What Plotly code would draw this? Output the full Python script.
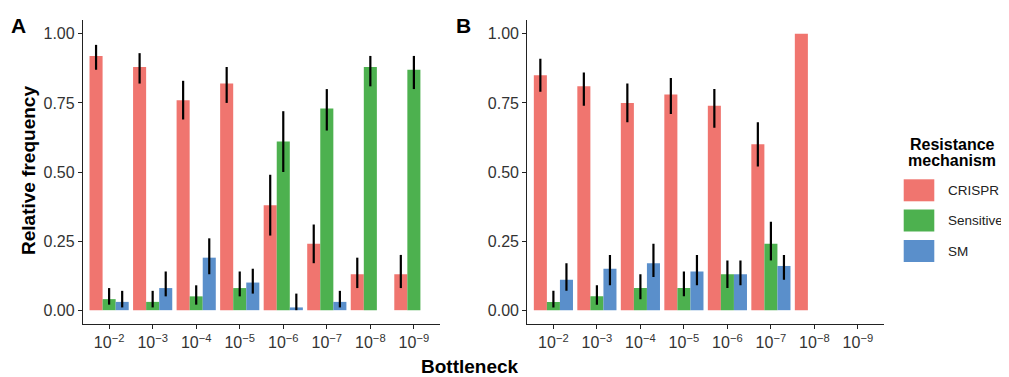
import plotly.graph_objects as go

# ---- data ----
bottleneck = ["10<sup>−2</sup>", "10<sup>−3</sup>", "10<sup>−4</sup>", "10<sup>−5</sup>",
              "10<sup>−6</sup>", "10<sup>−7</sup>", "10<sup>−8</sup>", "10<sup>−9</sup>"]
mechanisms = ["CRISPR", "Sensitive", "SM"]
colors = {"CRISPR": "#F0756F", "Sensitive": "#4DB14F", "SM": "#5A8FCB"}

# Panel A
a_crispr = [0.92, 0.88, 0.76, 0.82, 0.38, 0.24, 0.13, 0.13]
a_crispr_lo = [0.87, 0.82, 0.69, 0.75, 0.27, 0.17, 0.08, 0.08]
a_crispr_hi = [0.96, 0.93, 0.83, 0.88, 0.49, 0.31, 0.19, 0.20]
a_sens = [0.04, 0.03, 0.05, 0.08, 0.61, 0.73, 0.88, 0.87]
a_sens_lo = [0.02, 0.01, 0.02, 0.05, 0.50, 0.65, 0.81, 0.80]
a_sens_hi = [0.08, 0.07, 0.09, 0.14, 0.72, 0.80, 0.92, 0.92]
a_sm = [0.03, 0.08, 0.19, 0.10, 0.01, 0.03, 0.0, 0.0]
a_sm_lo = [0.01, 0.05, 0.13, 0.06, 0.00, 0.01, None, None]
a_sm_hi = [0.07, 0.14, 0.26, 0.15, 0.06, 0.07, None, None]

# Panel B
b_crispr = [0.85, 0.81, 0.75, 0.78, 0.74, 0.60, 1.00, None]
b_crispr_lo = [0.79, 0.74, 0.68, 0.71, 0.66, 0.52, None, None]
b_crispr_hi = [0.91, 0.86, 0.82, 0.84, 0.80, 0.68, None, None]
b_sens = [0.03, 0.05, 0.08, 0.08, 0.13, 0.24, 0.0, None]
b_sens_lo = [0.01, 0.02, 0.04, 0.05, 0.08, 0.18, None, None]
b_sens_hi = [0.07, 0.09, 0.13, 0.14, 0.18, 0.32, None, None]
b_sm = [0.11, 0.15, 0.17, 0.14, 0.13, 0.16, 0.0, None]
b_sm_lo = [0.07, 0.09, 0.12, 0.09, 0.09, 0.11, None, None]
b_sm_hi = [0.17, 0.20, 0.24, 0.20, 0.18, 0.20, None, None]

xpos = list(range(1, len(bottleneck) + 1))

# page offset (default body margin) compensation
W, H, OFF = 1001, 369, 8


def PX(px):
    return (px - OFF) / W


def PY(py):
    return 1 - (py - OFF) / H


def err(vals, lo, hi):
    up = [None if (v is None or h is None) else h - v for v, h in zip(vals, hi)]
    dn = [None if (v is None or l is None) else v - l for v, l in zip(vals, lo)]
    return dict(type="data", symmetric=False, array=up, arrayminus=dn,
                color="black", thickness=2.2, width=0)


fig = go.Figure()
panels = [
    ("x", "y", [(a_crispr, a_crispr_lo, a_crispr_hi), (a_sens, a_sens_lo, a_sens_hi), (a_sm, a_sm_lo, a_sm_hi)]),
    ("x2", "y2", [(b_crispr, b_crispr_lo, b_crispr_hi), (b_sens, b_sens_lo, b_sens_hi), (b_sm, b_sm_lo, b_sm_hi)]),
]
for xa, ya, series in panels:
    for name, (v, lo, hi) in zip(mechanisms, series):
        fig.add_trace(go.Bar(x=xpos, y=v, name=name, xaxis=xa, yaxis=ya,
                             marker=dict(color=colors[name], line=dict(width=0)),
                             error_y=err(v, lo, hi), showlegend=False,
                             offsetgroup=name))

FONT = "Liberation Sans, Arial"
tickfont = dict(family=FONT, size=16, color="#333333")
xcommon = dict(range=[0.4, 8.6], tickvals=xpos, ticktext=bottleneck, showline=True,
               linecolor="#222222", linewidth=1.3, ticks="outside", ticklen=4,
               tickcolor="#222222", tickwidth=1.3, showgrid=False, zeroline=False,
               tickfont=tickfont, fixedrange=True)
ycommon = dict(range=[-0.05, 1.05], tickvals=[0, 0.25, 0.5, 0.75, 1.0], tickformat=".2f",
               showline=True, linecolor="#222222", linewidth=1.3, ticks="outside",
               ticklen=4, tickcolor="#222222", tickwidth=1.3, showgrid=False,
               zeroline=False, tickfont=tickfont)

ydom = [PY(324), PY(20)]

LX = -3  # small legend shift so labels stay inside the visible page
annotations = [
    dict(text="<b>A</b>", x=PX(18), y=PY(25.5), font=dict(size=21, color="black")),
    dict(text="<b>B</b>", x=PX(463), y=PY(25.5), font=dict(size=21, color="black")),
    dict(text="<b>Relative frequency</b>", x=PX(28), y=PY(171), textangle=-90,
         font=dict(size=19, color="black")),
    dict(text="<b>Bottleneck</b>", x=PX(470), y=PY(366.5), font=dict(size=19, color="black")),
    dict(text="<b>Resistance</b>", x=PX(955 + LX), y=PY(144), font=dict(size=16, color="black")),
    dict(text="<b>mechanism</b>", x=PX(955 + LX), y=PY(160), font=dict(size=16, color="black")),
]
for a in annotations:
    a.update(xref="paper", yref="paper", showarrow=False, xanchor="center", yanchor="middle")

# legend keys (manual, ggplot-style)
shapes = []
key_tops = [179.3, 209.5, 240]
for name, top in zip(mechanisms, key_tops):
    shapes.append(dict(type="rect", xref="paper", yref="paper",
                       x0=PX(906.7 + LX), x1=PX(937.3 + LX), y0=PY(top + 22), y1=PY(top),
                       fillcolor=colors[name], line=dict(width=0)))
    annotations.append(dict(text=name, x=PX(948.5 + LX), y=PY(top + 11), xref="paper",
                            yref="paper", showarrow=False, xanchor="left", yanchor="middle",
                            font=dict(size=13.5, color="#222222")))

fig.update_layout(
    width=W, height=H, autosize=False,
    margin=dict(l=0, r=0, t=0, b=0),
    paper_bgcolor="white", plot_bgcolor="white",
    barmode="group", bargap=0.1, bargroupgap=0,
    showlegend=False,
    xaxis=dict(domain=[PX(83), PX(440)], anchor="y", **xcommon),
    yaxis=dict(domain=ydom, anchor="x", **ycommon),
    xaxis2=dict(domain=[PX(527.3), PX(884)], anchor="y2", **xcommon),
    yaxis2=dict(domain=ydom, anchor="x2", **ycommon),
    font=dict(family=FONT, color="#111111"),
    annotations=annotations,
    shapes=shapes,
)

fig.write_html("out.html")
